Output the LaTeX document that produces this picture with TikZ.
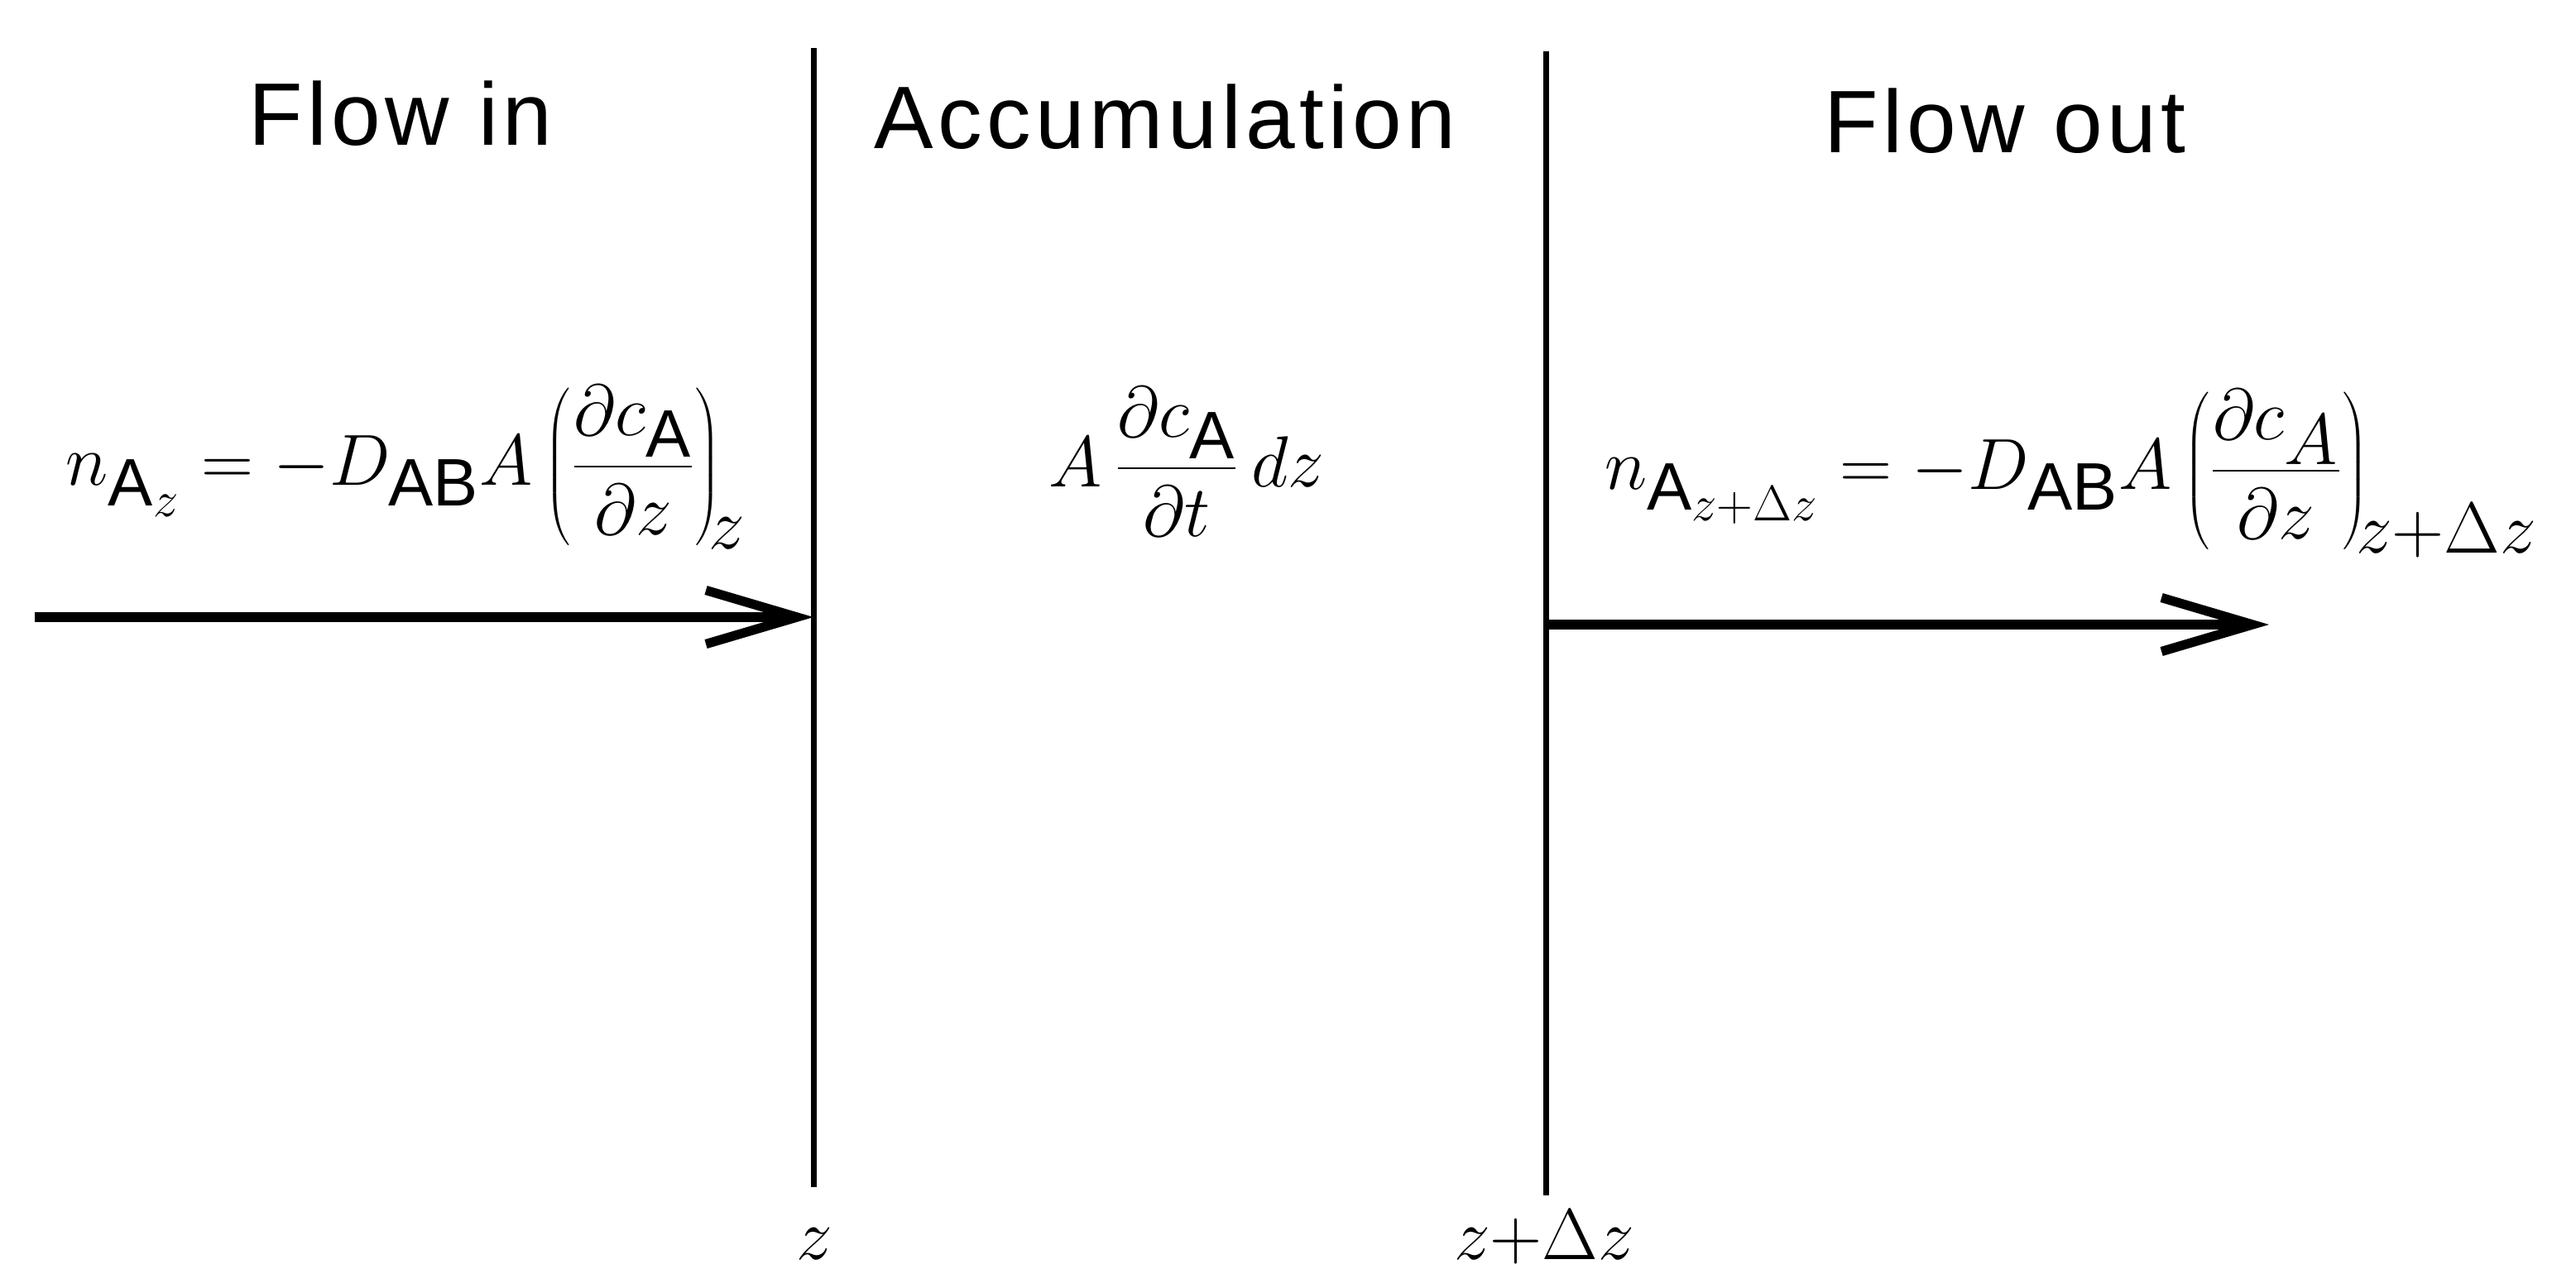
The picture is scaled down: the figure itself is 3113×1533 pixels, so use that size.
\documentclass[tikz,border=0pt]{standalone}
\usepackage{fontspec}
\setsansfont{Liberation Sans}
\newfontfamily\hdfont[LetterSpace=5]{Liberation Sans}
\usetikzlibrary{arrows.meta}
\begin{document}
\begin{tikzpicture}[x=0.01cm,y=-0.01cm]
  \tikzset{hd/.style={font=\fontsize{30.5}{36}\selectfont\hdfont,anchor=base,inner sep=0pt},
           eq/.style={font=\fontsize{33}{38}\selectfont,anchor=base,inner sep=0pt},
           zlabel/.style={font=\fontsize{33}{38}\selectfont,anchor=base,inner sep=0pt},
           wall/.style={line width=2pt},
           flux/.style={line width=3.2pt,-{Straight Barb[length=11mm,width=6.5mm,line width=3.2pt]}}}
  \useasboundingbox (0,0) rectangle (3113,1533);
  % the two faces of the slice
  \coordinate (zt) at (983,58);   \coordinate (zb) at (983,1435);
  \coordinate (dzt) at (1868,62); \coordinate (dzb) at (1868,1445);
  \draw[wall] (zt)--(zb); \draw[wall] (dzt)--(dzb);
  % headings
  \node[hd] (fin) at (484,175) {Flow in};
  \node[hd] (acc) at (1408,179) {Accumulation};
  \node[hd] (fout) at (2423,184) {Flow out};
  % balance terms
  \node[eq] (nin) at (491,586) {$\displaystyle n_{\mathsf{A}_z}=-D_{\mathsf{AB}}A\left(\frac{\partial c_{\mathsf{A}}}{\partial z}\right)_{\!z}$};
  \node[eq] (nacc) at (1434,588) {$\displaystyle A\,\frac{\partial c_{\mathsf{A}}}{\partial t}\,dz$};
  \node[eq] (nout) at (2503,591) {$\displaystyle n_{\mathsf{A}_{z+\Delta z}}=-D_{\mathsf{AB}}A\left(\frac{\partial c_A}{\partial z}\right)_{\!z+\Delta z}$};
  % fluxes
  \coordinate (a0) at (42,746);   \coordinate (a1) at (983,746);
  \coordinate (b0) at (1868,755); \coordinate (b1) at (2742,755);
  \draw[flux] (a0)--(a1); \draw[flux] (b0)--(b1);
  % positions
  \node[zlabel] (lz) at (984,1522) {$z$};
  \node[zlabel] (ldz) at (1866,1522) {$z{+}\Delta z$};
\end{tikzpicture}
\end{document}
